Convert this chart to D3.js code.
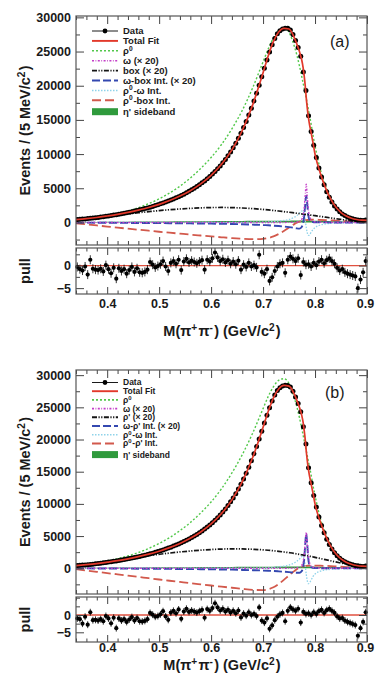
<!DOCTYPE html>
<html>
<head>
<meta charset="utf-8">
<script src="https://cdn.jsdelivr.net/npm/d3@7"></script>
<style>
  body { margin: 0; background: #fff; }
  svg { display: block; font-family: "Liberation Sans", Arial, Helvetica, sans-serif; }
  .axis text { font-size: 12.5px; font-weight: bold; fill: #1a1a1a; }
  .axis line { stroke: #444; stroke-width: 1; }
  .axis .domain { display: none; }
  .frame { fill: none; stroke: #555; stroke-width: 1.2; }
  .title { font-size: 14.5px; font-weight: bold; fill: #1a1a1a; }
  .legend text { font-weight: bold; fill: #1a1a1a; }
  .panel-tag { font-size: 16px; fill: #1a1a1a; }
</style>
</head>
<body>
<svg id="chart" width="375" height="674"></svg>
<script>
// ---- data: M(pi+pi-) bin centres (GeV/c^2), 5 MeV bins ----
const binCenters = [
  0.3425, 0.3475, 0.3525, 0.3575, 0.3625, 0.3675, 0.3725, 0.3775, 0.3825, 0.3875,
  0.3925, 0.3975, 0.4025, 0.4075, 0.4125, 0.4175, 0.4225, 0.4275, 0.4325, 0.4375,
  0.4425, 0.4475, 0.4525, 0.4575, 0.4625, 0.4675, 0.4725, 0.4775, 0.4825, 0.4875,
  0.4925, 0.4975, 0.5025, 0.5075, 0.5125, 0.5175, 0.5225, 0.5275, 0.5325, 0.5375,
  0.5425, 0.5475, 0.5525, 0.5575, 0.5625, 0.5675, 0.5725, 0.5775, 0.5825, 0.5875,
  0.5925, 0.5975, 0.6025, 0.6075, 0.6125, 0.6175, 0.6225, 0.6275, 0.6325, 0.6375,
  0.6425, 0.6475, 0.6525, 0.6575, 0.6625, 0.6675, 0.6725, 0.6775, 0.6825, 0.6875,
  0.6925, 0.6975, 0.7025, 0.7075, 0.7125, 0.7175, 0.7225, 0.7275, 0.7325, 0.7375,
  0.7425, 0.7475, 0.7525, 0.7575, 0.7625, 0.7675, 0.7725, 0.7775, 0.7825, 0.7875,
  0.7925, 0.7975, 0.8025, 0.8075, 0.8125, 0.8175, 0.8225, 0.8275, 0.8325, 0.8375,
  0.8425, 0.8475, 0.8525, 0.8575, 0.8625, 0.8675, 0.8725, 0.8775, 0.8825, 0.8875,
  0.8925, 0.8975
];

// events per bin (same data in both fits)
const dataCounts = [
  430, 460, 490, 520, 560, 600, 640, 690, 740, 790,
  840, 900, 960, 1020, 1080, 1140, 1210, 1280, 1350, 1420,
  1500, 1580, 1660, 1750, 1840, 1930, 2030, 2130, 2240, 2350,
  2470, 2590, 2720, 2850, 2990, 3130, 3280, 3440, 3600, 3770,
  3950, 4140, 4340, 4550, 4770, 5000, 5250, 5510, 5790, 6080,
  6390, 6720, 7070, 7440, 7840, 8270, 8730, 9220, 9750, 10320,
  10930, 11590, 12300, 13060, 13880, 14760, 15700, 16700, 17770, 18900,
  20080, 21300, 22550, 23780, 24950, 26000, 26900, 27600, 28050, 28300,
  28420, 28400, 28150, 27500, 26600, 25600, 24300, 22000, 19300, 15600,
  13300, 11300, 9500, 7950, 6650, 5500, 4500, 3700, 3000, 2420,
  1950, 1560, 1250, 1000, 800, 650, 530, 440, 370, 320,
  290, 350
];

const pullA = [
  -0.3, -0.8, -1.1, -0.2, -2.0, 1.3, -0.7, -0.9, -1.0, -0.7,
  -1.3, 0.1, -0.8, -1.7, -0.5, -2.9, -0.6, -1.2, -0.8, -1.8,
  -1.0, -0.3, -1.4, -0.6, -1.5, -1.6, -1.4, -0.9, 0.8, 0.2,
  -0.4, -0.1, 0.3, 1.0, -0.2, -1.2, 0.6, 1.0, 0.4, 1.3,
  -1.0, 0.9, 1.5, 0.7, 1.1, 0.8, 0.5, 0.9, 1.2, -0.9,
  1.3, 0.9, 1.6, 2.9, 1.8, 1.0, 1.4, 0.7, 1.2, 0.4,
  0.9, 0.3, 1.1, -0.9, 0.2, -0.3, 0.6, -0.2, 0.1, -0.4,
  2.4, -1.4, -1.8, -0.8, -3.4, -2.6, -1.2, -0.2, 0.4, 0.6,
  -1.6, 1.3, 2.0, 1.5, 1.0, 1.6, -2.1, 0.8, 0.2, 0.3,
  -0.2, 0.6, 0.1, 0.9, 1.3, 0.5, 1.2, 1.6, 1.0, 0.4,
  -0.5, -1.1, -0.8, -1.5, -1.8, -2.0, -2.2, -2.4, -5.0, -3.1,
  -1.5, 1.0
];

const pullB = [
  -1.0, -1.2, -2.5, -0.5, -2.8, 0.8, -1.5, -1.4, -1.6, -1.2,
  -1.8, -0.3, -1.0, -2.4, -0.8, -3.8, -1.0, -1.6, -1.2, -2.0,
  -1.3, -0.6, -1.6, -0.9, -1.8, -1.9, -1.7, -1.2, 0.6, 0.1,
  -0.5, -0.3, 0.2, 1.1, -0.4, -1.4, 0.7, 1.2, 0.5, 1.6,
  -1.1, 1.0, 1.8, 0.9, 1.3, 1.0, 0.7, 1.1, 1.5, -0.8,
  1.7, 1.2, 2.0, 3.4, 2.2, 1.3, 1.8, 1.0, 1.5, 0.7,
  1.2, 0.5, 1.3, -0.7, 0.4, -0.2, 0.8, 0.0, 0.3, -0.3,
  2.2, -1.6, -2.2, -1.0, -4.0, -3.0, -1.5, -0.5, 0.2, 0.6,
  -1.8, 1.2, 2.2, 1.6, 1.2, 1.8, -2.2, 0.9, 0.3, 0.5,
  0.0, 0.8, 0.3, 1.1, 1.5, 0.6, 1.4, 1.8, 1.2, 0.6,
  -0.4, -1.0, -0.9, -1.6, -2.0, -2.3, -2.6, -2.9, -6.0, -3.8,
  -2.0, 0.8
];

// ---- fit components, sampled on a mass grid ----
const curveMass = [
  0.34, 0.36, 0.38, 0.40, 0.42, 0.44, 0.46, 0.48, 0.50, 0.52,
  0.54, 0.56, 0.58, 0.60, 0.62, 0.64, 0.66, 0.68, 0.70, 0.71,
  0.72, 0.73, 0.74, 0.75, 0.76, 0.765, 0.77, 0.774, 0.777, 0.779,
  0.781, 0.783, 0.785, 0.787, 0.789, 0.792, 0.796, 0.80, 0.81, 0.82,
  0.83, 0.84, 0.85, 0.86, 0.87, 0.88, 0.89, 0.90
];

const totalFit = [
  410, 550, 720, 940, 1180, 1470, 1810, 2190, 2650, 3200,
  3860, 4650, 5640, 6890, 8500, 10620, 13450, 17200, 21900, 24400,
  26480, 27850, 28400, 28300, 27050, 26100, 25000, 23900, 22700, 21500,
  20100, 18300, 16800, 15500, 14500, 13300, 11700, 10000, 7250, 5100,
  3450, 2250, 1450, 940, 620, 430, 330, 300
];

const rho0A = [
  400, 560, 760, 1000, 1300, 1680, 2150, 2750, 3450, 4300,
  5300, 6500, 7900, 9500, 11400, 13700, 16400, 19700, 23500, 25400,
  27000, 28100, 28450, 27800, 25800, 24500, 22900, 21500, 20400, 19700,
  19000, 18200, 17400, 16600, 15800, 14600, 12800, 11200, 7800, 5400,
  3600, 2350, 1500, 950, 620, 420, 320, 280
];

const rho0B = [
  420, 610, 850, 1130, 1480, 1910, 2440, 3090, 3850, 4750,
  5850, 7100, 8600, 10300, 12350, 14800, 17650, 21000, 24800, 26700,
  28200, 29200, 29450, 28700, 26500, 25100, 23400, 21900, 20700, 19900,
  19100, 18300, 17500, 16700, 15900, 14700, 12900, 11300, 7800, 5400,
  3600, 2350, 1500, 950, 620, 420, 320, 280
];

const omega20 = [
  0, 0, 0, 0, 0, 0, 0, 0, 0, 0,
  0, 0, 0, 0, 0, 0, 0, 0, 0, 0,
  0, 0, 0, 10, 30, 60, 150, 400, 1000, 2000,
  3800, 5600, 3800, 2000, 1000, 450, 180, 90, 30, 15,
  5, 0, 0, 0, 0, 0, 0, 0
];

const boxA = [
  250, 480, 700, 900, 1080, 1250, 1420, 1580, 1730, 1860,
  1970, 2060, 2130, 2180, 2190, 2170, 2110, 2020, 1900, 1830,
  1750, 1670, 1580, 1490, 1390, 1340, 1290, 1250, 1220, 1200,
  1180, 1160, 1140, 1120, 1100, 1070, 1030, 990, 880, 770,
  660, 550, 440, 330, 230, 140, 70, 20
];

const rhoPrimeB = [
  300, 560, 820, 1070, 1310, 1540, 1760, 1970, 2170, 2360,
  2530, 2680, 2810, 2910, 2980, 3010, 3000, 2950, 2860, 2800,
  2720, 2630, 2530, 2420, 2300, 2230, 2160, 2100, 2060, 2030,
  2000, 1970, 1940, 1910, 1880, 1840, 1780, 1700, 1520, 1340,
  1160, 980, 810, 640, 480, 330, 180, 60
];

const omegaBoxA = [
  -20, -30, -40, -50, -60, -70, -80, -90, -100, -110,
  -120, -140, -160, -180, -200, -230, -270, -320, -380, -420,
  -470, -530, -600, -690, -800, -870, -900, -700, -100, 800,
  2500, 3900, 2700, 1100, 400, 150, 60, 30, 10, 5,
  0, 0, 0, 0, 0, 0, 0, 0
];

const omegaRhoPrimeB = [
  -10, -20, -30, -40, -50, -60, -70, -80, -90, -100,
  -110, -130, -150, -170, -190, -220, -260, -300, -350, -390,
  -430, -480, -540, -600, -670, -700, -700, -500, 200, 1300,
  3500, 5300, 3700, 1500, 500, 150, 60, 30, 10, 5,
  0, 0, 0, 0, 0, 0, 0, 0
];

const rhoOmegaA = [
  0, 0, 0, 0, 0, 0, 0, 0, 0, 0,
  0, 0, 0, 0, 0, 10, 20, 30, 50, 80,
  130, 200, 300, 450, 750, 1000, 1350, 1650, 1700, 1300,
  400, -700, -1500, -1900, -1850, -1500, -1050, -750, -380, -220,
  -140, -90, -60, -40, -25, -15, -10, -5
];

const rhoOmegaB = [
  0, 0, 0, 0, 0, 0, 0, 0, 0, 0,
  0, 0, 0, 0, 0, 10, 20, 30, 60, 90,
  140, 220, 330, 500, 820, 1100, 1450, 1800, 1900, 1500,
  500, -900, -1900, -2400, -2300, -1900, -1300, -900, -450, -260,
  -160, -100, -70, -45, -30, -20, -10, -5
];

const rhoBoxA = [
  -120, -280, -440, -600, -760, -910, -1060, -1210, -1360, -1500,
  -1640, -1780, -1910, -2040, -2170, -2290, -2390, -2450, -2400, -2280,
  -2050, -1700, -1250, -750, -250, -50, 100, 200, 260, 290,
  320, 340, 360, 375, 385, 395, 400, 400, 380, 350,
  310, 270, 220, 170, 120, 80, 50, 30
];

const rhoRhoPrimeB = [
  -150, -350, -550, -750, -950, -1150, -1350, -1550, -1750, -1940,
  -2130, -2320, -2500, -2680, -2860, -3030, -3200, -3350, -3400, -3250,
  -2950, -2450, -1800, -1100, -450, -150, 80, 220, 290, 320,
  350, 370, 390, 400, 410, 420, 425, 420, 400, 370,
  330, 280, 230, 180, 130, 90, 55, 30
];

const sideband = [
  60, 70, 80, 90, 100, 110, 120, 130, 140, 150,
  160, 170, 180, 190, 200, 210, 220, 230, 240, 245,
  250, 255, 260, 265, 270, 270, 270, 270, 270, 270,
  270, 270, 270, 265, 265, 260, 255, 250, 230, 210,
  190, 170, 150, 130, 110, 90, 70, 50
];

// axis ticks
const massTicks = [0.4, 0.5, 0.6, 0.7, 0.8, 0.9];
const massMinorTicks = [0.34, 0.36, 0.38, 0.42, 0.44, 0.46, 0.48, 0.52, 0.54, 0.56, 0.58,
  0.62, 0.64, 0.66, 0.68, 0.72, 0.74, 0.76, 0.78, 0.82, 0.84, 0.86, 0.88];
const eventTicks = [0, 5000, 10000, 15000, 20000, 25000, 30000];
const eventMinorTicks = [-2500, 2500, 7500, 12500, 17500, 22500, 27500];
const pullTicks = [-5, 0];
const pullMinorTicks = [-2.5, 2.5, 5];

// legend labels ("^x" marks a superscript)
const legendA = ["Data", "Total Fit", "ρ^0", "ω (× 20)", "box (× 20)", "ω-box Int. (× 20)",
  "ρ^0-ω Int.", "ρ^0-box Int.", "η' sideband"];
const legendB = ["Data", "Total Fit", "ρ^0", "ω (× 20)", "ρ' (× 20)", "ω-ρ' Int. (× 20)",
  "ρ^0-ω Int.", "ρ^0-ρ' Int.", "η' sideband"];

// line styles of the components
const styles = {
  fit:   { stroke: "#e2392b", width: 1.7, dash: null },
  rho:   { stroke: "#52c84a", width: 1.4, dash: "2,2" },
  omega: { stroke: "#c43ec8", width: 1.4, dash: "2,1.5,0.8,1.5" },
  box:   { stroke: "#151515", width: 1.7, dash: "5,1.5,1.2,1.5,1.2,1.5" },
  wbox:  { stroke: "#3448b0", width: 1.9, dash: "8,3" },
  rw:    { stroke: "#8fd3ea", width: 1.3, dash: "1.5,1.5" },
  rbox:  { stroke: "#d2594c", width: 1.8, dash: "9,4" }
};

const svg = d3.select("#chart");
const x = d3.scaleLinear().domain([0.34, 0.9]).range([76, 367]);

// writes "ρ^0" style strings as text with superscript tspans
// (the raised tspan is 70% size, so -0.5em there equals the +0.35em drop back)
function richText(sel, str) {
  const parts = str.split(/\^(.)/);
  parts.forEach((part, i) => {
    if (!part) return;
    if (i % 2 === 1) {
      sel.append("tspan").attr("dy", "-0.5em").attr("font-size", "70%").text(part);
      sel.append("tspan").attr("dy", "0.35em").text("\u200a");
    } else {
      sel.append("tspan").text(part);
    }
  });
}

function drawPanel(p) {
  const y = d3.scaleLinear().domain(p.yDomain).range([p.mainBottom, p.mainTop]);
  const yp = d3.scaleLinear().domain(p.pullDomain).range([p.pullBottom, p.pullTop]);
  const g = svg.append("g");

  const clipId = "clip-" + p.id;
  svg.append("clipPath").attr("id", clipId)
    .append("rect")
    .attr("x", 76).attr("y", p.mainTop)
    .attr("width", 291).attr("height", p.mainBottom - p.mainTop);

  const plot = g.append("g").attr("clip-path", `url(#${clipId})`);

  // eta' sideband as a filled band
  const sb = curveMass.map((m, i) => ({ m, v: sideband[i] }));
  plot.append("path")
    .datum(sb)
    .attr("fill", "#2f9a3c")
    .attr("d", d3.area().x(d => x(d.m)).y0(y(0)).y1(d => y(d.v)).curve(d3.curveMonotoneX));

  const line = d3.line().x(d => x(d.m)).y(d => y(d.v)).curve(d3.curveMonotoneX);

  p.components.forEach(c => {
    const st = styles[c.style];
    plot.append("path")
      .datum(curveMass.map((m, i) => ({ m, v: c.values[i] })))
      .attr("fill", "none")
      .attr("stroke", st.stroke)
      .attr("stroke-width", st.width)
      .attr("stroke-dasharray", st.dash)
      .attr("d", line);
  });

  // data points
  plot.append("g").selectAll("circle")
    .data(binCenters.map((m, i) => ({ m, v: dataCounts[i] })))
    .join("circle")
    .attr("cx", d => x(d.m))
    .attr("cy", d => y(d.v))
    .attr("r", 2.5)
    .attr("fill", "#000");

  // total fit on top
  plot.append("path")
    .datum(curveMass.map((m, i) => ({ m, v: totalFit[i] })))
    .attr("fill", "none")
    .attr("stroke", styles.fit.stroke)
    .attr("stroke-width", styles.fit.width)
    .attr("d", line);

  // --- main frame axes (ticks point inward) ---
  const minorY = eventMinorTicks.filter(t => t > p.yDomain[0]);
  const mainAxes = g.append("g").attr("class", "axis");
  mainAxes.append("g").attr("transform", "translate(76,0)")
    .call(d3.axisLeft(y).tickValues(eventTicks).tickSize(-8).tickPadding(5).tickFormat(d3.format("d")));
  mainAxes.append("g").attr("transform", "translate(76,0)")
    .call(d3.axisLeft(y).tickValues(minorY).tickSize(-4).tickFormat(""));
  mainAxes.append("g").attr("transform", "translate(367,0)")
    .call(d3.axisRight(y).tickValues(eventTicks).tickSize(-8).tickFormat(""));
  mainAxes.append("g").attr("transform", "translate(367,0)")
    .call(d3.axisRight(y).tickValues(minorY).tickSize(-4).tickFormat(""));
  [[p.mainBottom, d3.axisBottom], [p.mainTop, d3.axisTop]].forEach(([pos, ax]) => {
    mainAxes.append("g").attr("transform", `translate(0,${pos})`)
      .call(ax(x).tickValues(massTicks).tickSize(-8).tickFormat(""));
    mainAxes.append("g").attr("transform", `translate(0,${pos})`)
      .call(ax(x).tickValues(massMinorTicks).tickSize(-4).tickFormat(""));
  });

  g.append("rect").attr("class", "frame")
    .attr("x", 76).attr("y", p.mainTop)
    .attr("width", 291).attr("height", p.mainBottom - p.mainTop);

  // --- legend ---
  const leg = g.append("g").attr("class", "legend");
  p.legend.forEach((label, i) => {
    const ly = p.legendTop + i * p.legendStep + (i === p.legend.length - 1 ? p.legendLastShift : 0);
    const key = p.legendKeys[i];
    if (key === "data") {
      leg.append("line").attr("x1", 92).attr("x2", 118).attr("y1", ly).attr("y2", ly)
        .attr("stroke", "#000").attr("stroke-width", 0.9);
      leg.append("circle").attr("cx", 105).attr("cy", ly).attr("r", 2.4).attr("fill", "#000");
    } else if (key === "band") {
      leg.append("rect").attr("x", 92).attr("y", ly - 3.5).attr("width", 26).attr("height", 7)
        .attr("fill", "#2f9a3c");
    } else {
      const st = styles[key];
      leg.append("line").attr("x1", 92).attr("x2", 118).attr("y1", ly).attr("y2", ly)
        .attr("stroke", st.stroke).attr("stroke-width", st.width + 0.2)
        .attr("stroke-dasharray", st.dash);
    }
    const t = leg.append("text").attr("x", 123).attr("y", ly + p.legendFont * 0.35)
      .attr("font-size", p.legendFont + "px");
    richText(t, label);
  });

  g.append("text").attr("class", "panel-tag")
    .attr("x", p.tagX).attr("y", p.tagY).text(`(${p.id})`);

  // y title
  const yt = g.append("text").attr("class", "title")
    .attr("text-anchor", "middle")
    .attr("transform", `translate(30,${(p.mainTop + p.mainBottom) / 2}) rotate(-90)`);
  richText(yt, "Events / (5 MeV/c^2)");

  // --- pull pad ---
  const pull = g.append("g");
  pull.append("line")
    .attr("x1", 76).attr("x2", 367).attr("y1", yp(0)).attr("y2", yp(0))
    .attr("stroke", "#e0503f").attr("stroke-width", 1.3);

  const pullPts = binCenters.map((m, i) => ({ m, v: p.pull[i] }));
  pull.append("g").selectAll("line")
    .data(pullPts)
    .join("line")
    .attr("x1", d => x(d.m)).attr("x2", d => x(d.m))
    .attr("y1", d => yp(d.v - 1)).attr("y2", d => yp(d.v + 1))
    .attr("stroke", "#000").attr("stroke-width", 0.8);
  pull.append("g").selectAll("circle")
    .data(pullPts)
    .join("circle")
    .attr("cx", d => x(d.m)).attr("cy", d => yp(d.v))
    .attr("r", 2.1).attr("fill", "#000");

  const minorP = pullMinorTicks.filter(t => t < p.pullDomain[1]);
  const pullAxes = g.append("g").attr("class", "axis");
  pullAxes.append("g").attr("transform", "translate(76,0)")
    .call(d3.axisLeft(yp).tickValues(pullTicks).tickSize(-8).tickPadding(5).tickFormat(d3.format("d")));
  pullAxes.append("g").attr("transform", "translate(76,0)")
    .call(d3.axisLeft(yp).tickValues(minorP).tickSize(-4).tickFormat(""));
  pullAxes.append("g").attr("transform", "translate(367,0)")
    .call(d3.axisRight(yp).tickValues(pullTicks).tickSize(-8).tickFormat(""));
  pullAxes.append("g").attr("transform", "translate(367,0)")
    .call(d3.axisRight(yp).tickValues(minorP).tickSize(-4).tickFormat(""));
  const xLabels = pullAxes.append("g").attr("transform", `translate(0,${p.pullBottom})`)
    .call(d3.axisBottom(x).tickValues(massTicks).tickSize(-7).tickPadding(p.xLabelPad).tickFormat(d3.format(".1f")));
  // keep the last label inside the picture
  xLabels.selectAll("text").filter(d => d === 0.9).attr("dx", "-2");
  pullAxes.append("g").attr("transform", `translate(0,${p.pullBottom})`)
    .call(d3.axisBottom(x).tickValues(massMinorTicks).tickSize(-3.5).tickFormat(""));
  pullAxes.append("g").attr("transform", `translate(0,${p.pullTop})`)
    .call(d3.axisTop(x).tickValues(massTicks).tickSize(-7).tickFormat(""));
  pullAxes.append("g").attr("transform", `translate(0,${p.pullTop})`)
    .call(d3.axisTop(x).tickValues(massMinorTicks).tickSize(-3.5).tickFormat(""));

  g.append("rect").attr("class", "frame")
    .attr("x", 76).attr("y", p.pullTop)
    .attr("width", 291).attr("height", p.pullBottom - p.pullTop);

  g.append("text").attr("class", "title")
    .attr("text-anchor", "middle")
    .attr("transform", `translate(30,${(p.pullTop + p.pullBottom) / 2}) rotate(-90)`)
    .text("pull");

  const xt = g.append("text").attr("class", "title")
    .attr("text-anchor", "middle")
    .attr("font-size", p.xTitleFont + "px")
    .attr("x", 222).attr("y", p.xTitleY);
  richText(xt, "M(π^+π^-) (GeV/c^2)");
}

drawPanel({
  id: "a",
  mainTop: 16, mainBottom: 245, yDomain: [-3300, 30200],
  pullTop: 248, pullBottom: 294, pullDomain: [-6.3, 3.9],
  pull: pullA, xLabelPad: 5, xTitleY: 336, xTitleFont: 14.5,
  components: [
    { style: "rbox", values: rhoBoxA },
    { style: "rw", values: rhoOmegaA },
    { style: "wbox", values: omegaBoxA },
    { style: "box", values: boxA },
    { style: "omega", values: omega20 },
    { style: "rho", values: rho0A }
  ],
  legend: legendA,
  legendKeys: ["data", "fit", "rho", "omega", "box", "wbox", "rw", "rbox", "band"],
  legendTop: 31, legendStep: 9.9, legendLastShift: 1.5, legendFont: 9.5,
  tagX: 330, tagY: 47
});

drawPanel({
  id: "b",
  mainTop: 370, mainBottom: 594, yDomain: [-4000, 30800],
  pullTop: 597, pullBottom: 642, pullDomain: [-7.8, 5.2],
  pull: pullB, xLabelPad: 1, xTitleY: 670, xTitleFont: 14,
  components: [
    { style: "rbox", values: rhoRhoPrimeB },
    { style: "rw", values: rhoOmegaB },
    { style: "wbox", values: omegaRhoPrimeB },
    { style: "box", values: rhoPrimeB },
    { style: "omega", values: omega20 },
    { style: "rho", values: rho0B }
  ],
  legend: legendB,
  legendKeys: ["data", "fit", "rho", "omega", "box", "wbox", "rw", "rbox", "band"],
  legendTop: 382.5, legendStep: 8.7, legendLastShift: 2.5, legendFont: 8.5,
  tagX: 325, tagY: 398
});
</script>
</body>
</html>
